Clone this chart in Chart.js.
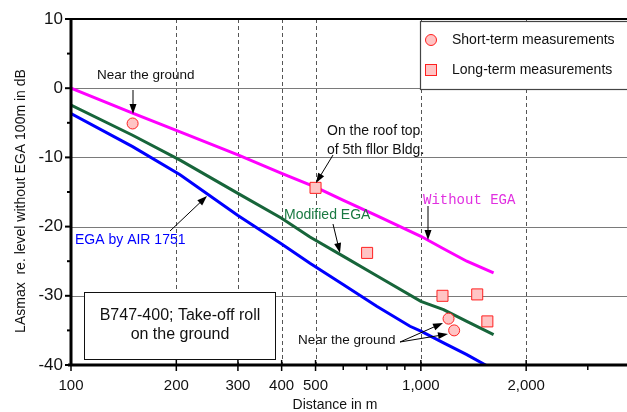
<!DOCTYPE html>
<html>
<head>
<meta charset="utf-8">
<script src="https://cdn.jsdelivr.net/npm/chart.js@4/dist/chart.umd.min.js"></script>
<style>body{margin:0;background:#fff}canvas{display:block}</style>
</head>
<body>
<canvas id="myChart" width="627" height="412"></canvas>
<script>
// levels re. level without EGA at 100 m (dB) vs distance (m)
var withoutDist = [100, 150, 205, 300, 400, 500, 601, 748, 1000, 1161, 1353, 1614];
var withoutLevel = [0, -3.6, -6.3, -9.65, -12.3, -14.3, -16.2, -18.4, -21.4, -23.2, -25.0, -26.7];
var modifiedDist = [100, 150, 205, 300, 400, 482, 601, 748, 1000, 1161, 1353, 1614];
var modifiedLevel = [-2.45, -6.8, -10.4, -15.2, -18.8, -21.5, -24.3, -27.1, -30.8, -32.0, -33.7, -35.6];
var airDist = [100, 150, 205, 300, 400, 482, 601, 748, 931, 1000, 1161, 1353, 1530, 1614];
var airLevel = [-3.65, -8.45, -12.5, -18.4, -22.5, -25.3, -28.4, -31.5, -34.4, -35.1, -36.8, -38.5, -40, -41];
var shortDist = [150, 1200, 1245];
var shortLevel = [-5.1, -33.3, -35.0];
var longDist = [500, 702, 1153, 1449, 1549];
var longLevel = [-14.4, -23.8, -30.0, -29.8, -33.7];
var xTicks = [100, 200, 300, 400, 500, 1000, 2000];
var xMinor = [600, 700, 800, 900, 3000];
var xGrid = [200, 300, 400, 500, 1000, 2000];
var yTicks = [10, 0, -10, -20, -30, -40];
var yGrid = [0, -10, -20, -30];
var yMinor = [5, -5, -15, -25, -35];

function pts(xs, ys) {
    return xs.map(function(x, i){ return {x: x, y: ys[i]}; });
}

var FONT = 'Arial, "Liberation Sans", sans-serif';

function arrow(ctx, x1, y1, x2, y2) {
    var a = Math.atan2(y2 - y1, x2 - x1);
    var len = 10, w = 3.5;
    ctx.save();
    ctx.strokeStyle = '#000';
    ctx.fillStyle = '#000';
    ctx.lineWidth = 1;
    ctx.beginPath();
    ctx.moveTo(x1, y1);
    ctx.lineTo(x2 - Math.cos(a) * len * 0.8, y2 - Math.sin(a) * len * 0.8);
    ctx.stroke();
    ctx.beginPath();
    ctx.moveTo(x2, y2);
    ctx.lineTo(x2 - Math.cos(a) * len - Math.sin(a) * w, y2 - Math.sin(a) * len + Math.cos(a) * w);
    ctx.lineTo(x2 - Math.cos(a) * len + Math.sin(a) * w, y2 - Math.sin(a) * len - Math.cos(a) * w);
    ctx.closePath();
    ctx.fill();
    ctx.restore();
}

var gridPlugin = {
    id: 'gridPlugin',
    beforeDatasetsDraw: function(chart) {
        var ctx = chart.ctx, a = chart.chartArea, sx = chart.scales.x, sy = chart.scales.y;
        ctx.save();
        ctx.lineWidth = 1;
        ctx.strokeStyle = '#7a7a7a';
        yGrid.forEach(function(v){
            var y = Math.round(sy.getPixelForValue(v)) + 0.5;
            ctx.beginPath(); ctx.moveTo(a.left, y); ctx.lineTo(627, y); ctx.stroke();
        });
        ctx.strokeStyle = '#555';
        ctx.setLineDash([4, 3]);
        xGrid.forEach(function(v){
            var x = Math.round(sx.getPixelForValue(v)) + 0.5;
            ctx.beginPath(); ctx.moveTo(x, a.top); ctx.lineTo(x, a.bottom); ctx.stroke();
        });
        ctx.restore();
    },
    afterDraw: function(chart) {
        var ctx = chart.ctx, a = chart.chartArea, sx = chart.scales.x, sy = chart.scales.y;
        ctx.save();
        // frame
        ctx.strokeStyle = '#000';
        ctx.lineWidth = 2;
        ctx.beginPath(); ctx.moveTo(a.left, a.top); ctx.lineTo(627, a.top); ctx.stroke();
        ctx.lineWidth = 3;
        ctx.beginPath(); ctx.moveTo(a.left, a.top - 1); ctx.lineTo(a.left, a.bottom + 1); ctx.stroke();
        ctx.beginPath(); ctx.moveTo(a.left - 3, a.bottom); ctx.lineTo(627, a.bottom); ctx.stroke();
        // y ticks
        ctx.lineWidth = 2;
        yTicks.forEach(function(v){
            var y = sy.getPixelForValue(v);
            ctx.beginPath(); ctx.moveTo(a.left - 6, y); ctx.lineTo(a.left, y); ctx.stroke();
        });
        yMinor.forEach(function(v){
            var y = sy.getPixelForValue(v);
            ctx.beginPath(); ctx.moveTo(a.left - 4, y); ctx.lineTo(a.left, y); ctx.stroke();
        });
        // x ticks
        ctx.lineWidth = 1.5;
        xTicks.forEach(function(v){
            var x = sx.getPixelForValue(v);
            ctx.beginPath(); ctx.moveTo(x, a.bottom - 5); ctx.lineTo(x, a.bottom + 6); ctx.stroke();
        });
        xMinor.forEach(function(v){
            var x = sx.getPixelForValue(v);
            ctx.beginPath(); ctx.moveTo(x, a.bottom); ctx.lineTo(x, a.bottom + 5); ctx.stroke();
        });

        // axis titles
        ctx.fillStyle = '#111';
        ctx.font = '14px ' + FONT;
        ctx.textAlign = 'center';
        ctx.textBaseline = 'middle';
        ctx.fillText('Distance in m', 335, 405);
        ctx.save();
        ctx.translate(21, 201);
        ctx.rotate(-Math.PI / 2);
        ctx.fillText('LAsmax  re. level without EGA 100m in dB', 0, 0);
        ctx.restore();

        // annotations
        ctx.textAlign = 'left';
        ctx.fillStyle = '#111';
        ctx.font = '13.5px ' + FONT;
        ctx.fillText('Near the ground', 97, 75);
        arrow(ctx, 133, 90, 133, 114);
        ctx.font = '14px ' + FONT;
        ctx.fillText('On the roof top', 327, 131);
        ctx.fillText('of 5th fllor Bldg.', 327, 150);
        arrow(ctx, 333, 155, 316, 183);
        ctx.font = '13.5px ' + FONT;
        ctx.fillText('Near the ground', 298, 340);
        arrow(ctx, 400, 342, 443, 323);
        arrow(ctx, 400, 342, 448, 334);

        ctx.fillStyle = '#e030e0';
        ctx.font = '14px "Liberation Mono", "Courier New", monospace';
        ctx.fillText('Without EGA', 423, 200);
        arrow(ctx, 428, 206, 428, 240);
        ctx.fillStyle = '#1a7a42';
        ctx.font = '14px ' + FONT;
        ctx.fillText('Modified EGA', 284, 215);
        arrow(ctx, 333, 224, 340, 253);
        ctx.fillStyle = '#0000ff';
        ctx.fillText('EGA by AIR 1751', 75, 240);
        arrow(ctx, 170, 231, 207, 196);

        // text box
        ctx.fillStyle = '#fff';
        ctx.fillRect(84.5, 292.5, 191, 67);
        ctx.strokeStyle = '#111';
        ctx.lineWidth = 1;
        ctx.strokeRect(84.5, 292.5, 191, 67);
        ctx.fillStyle = '#111';
        ctx.font = '16px ' + FONT;
        ctx.textAlign = 'center';
        ctx.fillText('B747-400; Take-off roll', 180, 316);
        ctx.fillText('on the ground', 180, 335);

        // legend
        ctx.fillStyle = '#fff';
        ctx.fillRect(420.5, 21.5, 220, 68);
        ctx.strokeStyle = '#444';
        ctx.lineWidth = 1.2;
        ctx.strokeRect(420.5, 21.5, 220, 68);
        ctx.fillStyle = '#ffc4c4';
        ctx.strokeStyle = '#ff2020';
        ctx.lineWidth = 1;
        ctx.beginPath(); ctx.arc(431, 40, 5.5, 0, Math.PI * 2); ctx.fill(); ctx.stroke();
        ctx.fillRect(425.5, 64.5, 11, 11); ctx.strokeRect(425.5, 64.5, 11, 11);
        ctx.fillStyle = '#111';
        ctx.font = '14px ' + FONT;
        ctx.textAlign = 'left';
        ctx.fillText('Short-term measurements', 452, 40);
        ctx.fillText('Long-term measurements', 452, 70);
        ctx.restore();
    }
};

var ctx = document.getElementById('myChart').getContext('2d');
var myChart = new Chart(ctx, {
    type: 'scatter',
    data: {
        datasets: [
            {label: 'Short-term measurements', data: pts(shortDist, shortLevel), pointStyle: 'circle', pointRadius: 5.5,
             backgroundColor: '#ffc4c4', borderColor: '#ff2020', borderWidth: 1, order: 0},
            {label: 'Long-term measurements', data: pts(longDist, longLevel), pointStyle: 'rect', pointRadius: 7.8,
             backgroundColor: '#ffc4c4', borderColor: '#ff2020', borderWidth: 1, order: 0},
            {label: 'Without EGA', data: pts(withoutDist, withoutLevel), showLine: true, pointRadius: 0,
             borderColor: '#ff00ff', borderWidth: 3, order: 1},
            {label: 'Modified EGA', data: pts(modifiedDist, modifiedLevel), showLine: true, pointRadius: 0,
             borderColor: '#17653a', borderWidth: 3, order: 1},
            {label: 'EGA by AIR 1751', data: pts(airDist, airLevel), showLine: true, pointRadius: 0,
             borderColor: '#0000ff', borderWidth: 3, order: 1}
        ]
    },
    options: {
        responsive: false,
        animation: false,
        events: [],
        layout: {padding: {top: 19, right: 0, left: 0, bottom: 0}},
        plugins: {legend: {display: false}, tooltip: {enabled: false}},
        scales: {
            x: {
                type: 'logarithmic', min: 100, max: 3665,
                afterBuildTicks: function(axis){ axis.ticks = xTicks.map(function(v){ return {value: v}; }); },
                afterFit: function(axis){ axis.height = 47; },
                grid: {display: false, drawTicks: false}, border: {display: false},
                ticks: {
                    autoSkip: false, maxRotation: 0, padding: 12, color: '#111',
                    font: {family: FONT, size: 15},
                    callback: function(v){ return Number(v).toLocaleString('en-US'); }
                }
            },
            y: {
                min: -40, max: 10,
                afterBuildTicks: function(axis){ axis.ticks = yTicks.map(function(v){ return {value: v}; }); },
                afterFit: function(axis){ axis.width = 71; },
                grid: {display: false, drawTicks: false}, border: {display: false},
                ticks: {padding: 8, color: '#111', font: {family: FONT, size: 17}}
            }
        }
    },
    plugins: [gridPlugin]
});
</script>
</body>
</html>
